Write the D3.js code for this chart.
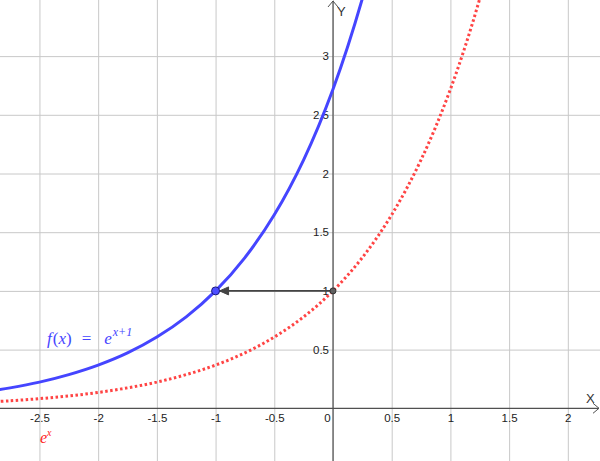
<!DOCTYPE html>
<html>
<head>
<meta charset="utf-8">
<script src="https://cdn.jsdelivr.net/npm/d3@7"></script>
<style>
  html, body { margin: 0; padding: 0; background: #fff; }
  svg { display: block; }
</style>
</head>
<body>
<svg id="chart" width="600" height="461"></svg>
<script>
// sample points
const xSamples = [-3, -2.75, -2.5, -2.25, -2, -1.75, -1.5, -1.25, -1, -0.75, -0.5, -0.25, 0, 0.25, 0.5, 0.75, 1, 1.25, 1.5];
const redValues = [0.050, 0.064, 0.082, 0.105, 0.135, 0.174, 0.223, 0.287, 0.368, 0.472, 0.607, 0.779, 1.000, 1.284, 1.649, 2.117, 2.718, 3.490, 4.482];
const blueValues = [0.135, 0.174, 0.223, 0.287, 0.368, 0.472, 0.607, 0.779, 1.000, 1.284, 1.649, 2.117, 2.718, 3.490, 4.482];

const xTicks = [-2.5, -2, -1.5, -1, -0.5, 0, 0.5, 1, 1.5, 2];
const yTicks = [0.5, 1, 1.5, 2, 2.5, 3];
const xTickLabels = ["-2.5", "-2", "-1.5", "-1", "-0.5", "0", "0.5", "1", "1.5", "2"];
const yTickLabels = ["0.5", "1", "1.5", "2", "2.5", "3"];

const arrowFrom = [0, 1];
const arrowTo = [-1, 1];

const width = 600, height = 461;
const svg = d3.select("#chart");

const x = d3.scaleLinear().domain([-2.836, 2.274]).range([0, width]);
const y = d3.scaleLinear().domain([-0.449, 3.478]).range([height, 0]);

svg.append("defs").append("clipPath").attr("id", "plotclip")
    .append("rect").attr("width", width).attr("height", height);

// grid
svg.append("g")
    .attr("transform", `translate(0,${height})`)
    .call(d3.axisBottom(x).tickValues(xTicks).tickSize(-height).tickFormat(""))
    .call(g => g.select(".domain").remove())
    .call(g => g.selectAll("line").attr("stroke", "#c8c8c8").attr("stroke-width", 1));

svg.append("g")
    .call(d3.axisLeft(y).tickValues(yTicks).tickSize(-width).tickFormat(""))
    .call(g => g.select(".domain").remove())
    .call(g => g.selectAll("line").attr("stroke", "#c8c8c8").attr("stroke-width", 1));

// axes lines
const axisColor = "#505050";
svg.append("line")
    .attr("x1", 0).attr("x2", width - 1)
    .attr("y1", y(0)).attr("y2", y(0))
    .attr("stroke", axisColor).attr("stroke-width", 1.2);
svg.append("line")
    .attr("x1", x(0)).attr("x2", x(0))
    .attr("y1", 1).attr("y2", height)
    .attr("stroke", axisColor).attr("stroke-width", 1.2);

// axis arrow heads
svg.append("path")
    .attr("d", `M${width - 7},${y(0) - 5}L${width - 1},${y(0)}L${width - 7},${y(0) + 5}`)
    .attr("fill", "none").attr("stroke", axisColor).attr("stroke-width", 1);
svg.append("path")
    .attr("d", `M${x(0) - 5},7L${x(0)},1L${x(0) + 5},7`)
    .attr("fill", "none").attr("stroke", axisColor).attr("stroke-width", 1);

svg.append("text").attr("x", width - 14).attr("y", y(0) - 5)
    .attr("font-family", "Liberation Sans, sans-serif").attr("font-size", 13)
    .attr("fill", "#333").text("X");
svg.append("text").attr("x", x(0) + 4).attr("y", 16)
    .attr("font-family", "Liberation Sans, sans-serif").attr("font-size", 13)
    .attr("fill", "#333").text("Y");

// tick labels
svg.append("g")
    .attr("transform", `translate(0,${y(0)})`)
    .call(d3.axisBottom(x).tickValues(xTicks).tickSize(0).tickPadding(6)
        .tickFormat((d, i) => xTickLabels[i]))
    .call(g => g.select(".domain").remove())
    .call(g => g.selectAll("text")
        .attr("font-family", "Liberation Sans, sans-serif").attr("font-size", 11.5)
        .attr("fill", "#222")
        .attr("dx", d => d === 0 ? -6 : 0));

svg.append("g")
    .attr("transform", `translate(${x(0)},0)`)
    .call(d3.axisLeft(y).tickValues(yTicks).tickSize(0).tickPadding(4)
        .tickFormat((d, i) => yTickLabels[i]))
    .call(g => g.select(".domain").remove())
    .call(g => g.selectAll("text")
        .attr("font-family", "Liberation Sans, sans-serif").attr("font-size", 11.5)
        .attr("fill", "#222"));

// curves
const line = d3.line()
    .x(d => x(d[0]))
    .y(d => y(d[1]))
    .curve(d3.curveCatmullRom);

const curves = svg.append("g").attr("clip-path", "url(#plotclip)");

curves.append("path")
    .datum(xSamples.map((v, i) => [v, redValues[i]]))
    .attr("d", line)
    .attr("fill", "none")
    .attr("stroke", "#ff4444")
    .attr("stroke-width", 3)
    .attr("stroke-dasharray", "2.5,2.5");

curves.append("path")
    .datum(blueValues.map((v, i) => [xSamples[i], v]))
    .attr("d", line)
    .attr("fill", "none")
    .attr("stroke", "#4545ff")
    .attr("stroke-width", 3);

// arrow from (0,1) to (-1,1)
const arrowColor = "#444";
svg.append("line")
    .attr("x1", x(arrowFrom[0])).attr("y1", y(arrowFrom[1]))
    .attr("x2", x(arrowTo[0]) + 4).attr("y2", y(arrowTo[1]))
    .attr("stroke", arrowColor).attr("stroke-width", 1.6);
svg.append("path")
    .attr("d", `M${x(arrowTo[0]) + 13},${y(arrowTo[1]) - 4}L${x(arrowTo[0]) + 4},${y(arrowTo[1])}L${x(arrowTo[0]) + 13},${y(arrowTo[1]) + 4}Z`)
    .attr("fill", arrowColor).attr("stroke", arrowColor).attr("stroke-width", 1);

// points
svg.append("circle")
    .attr("cx", x(arrowFrom[0])).attr("cy", y(arrowFrom[1])).attr("r", 3)
    .attr("fill", "#606060").attr("stroke", "#333").attr("stroke-width", 1);
svg.append("circle")
    .attr("cx", x(arrowTo[0])).attr("cy", y(arrowTo[1])).attr("r", 4)
    .attr("fill", "#4d4dff").attr("stroke", "#1a1a80").attr("stroke-width", 1);

// labels
const fLabel = svg.append("text")
    .attr("x", 47).attr("y", 344)
    .attr("font-family", "Liberation Serif, serif").attr("font-size", 17)
    .attr("fill", "#4545ff");
fLabel.append("tspan").attr("font-style", "italic").text("f");
fLabel.append("tspan").attr("dx", 1).text("(");
fLabel.append("tspan").attr("font-style", "italic").text("x");
fLabel.append("tspan").text(")");
fLabel.append("tspan").attr("dx", 10).text("=");
fLabel.append("tspan").attr("dx", 13).attr("font-style", "italic").text("e");
fLabel.append("tspan").attr("dy", -8).attr("dx", 1).attr("font-size", 12).attr("font-style", "italic").text("x+1");

const eLabel = svg.append("text")
    .attr("x", 40).attr("y", 443)
    .attr("font-family", "Liberation Serif, serif").attr("font-size", 16)
    .attr("fill", "#ff2020");
eLabel.append("tspan").attr("font-style", "italic").text("e");
eLabel.append("tspan").attr("dy", -7).attr("font-size", 10).attr("font-style", "italic").text("x");
</script>
</body>
</html>
